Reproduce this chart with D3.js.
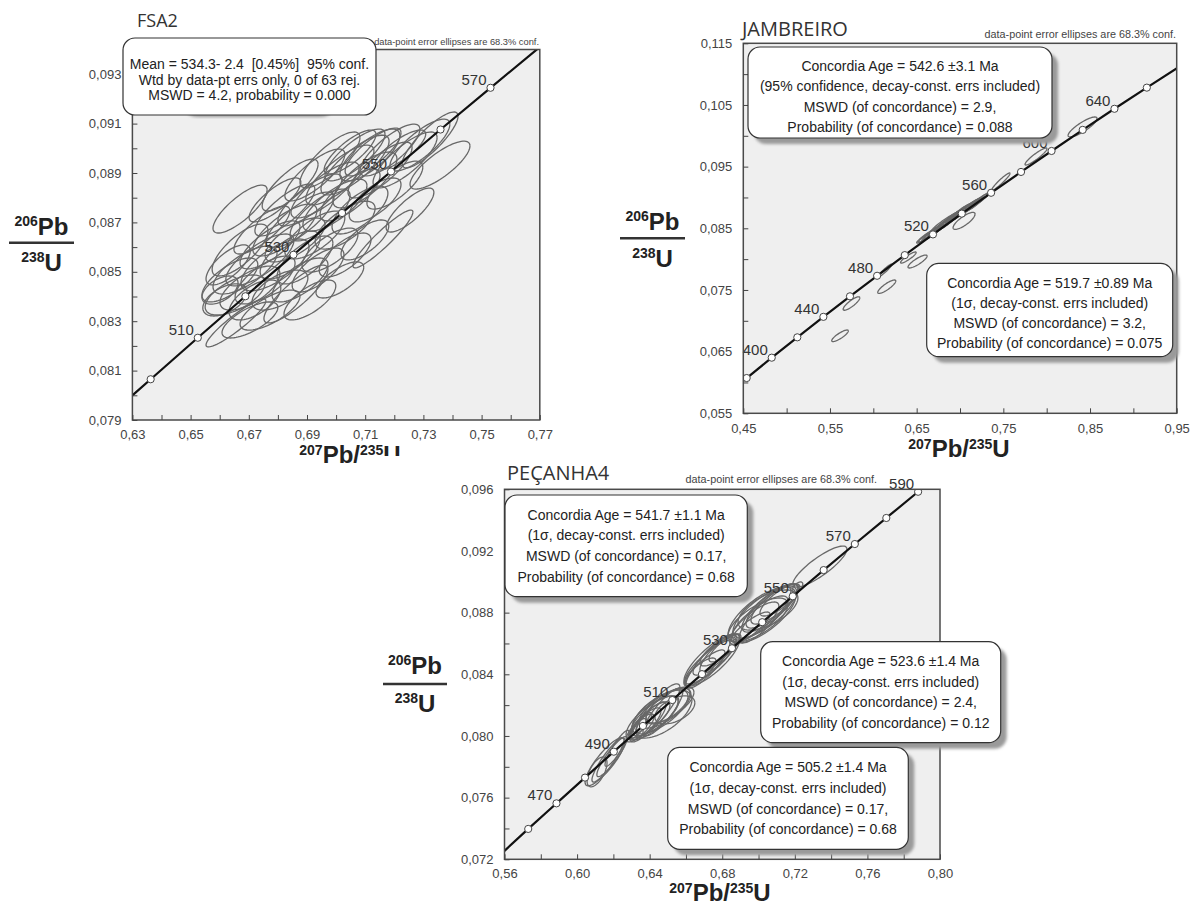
<!DOCTYPE html>
<html><head><meta charset="utf-8">
<script src="https://cdn.jsdelivr.net/npm/d3@7"></script>
<style>
body{margin:0;background:#fff;}
svg text{font-family:"Liberation Sans",Arial,sans-serif;}
</style></head><body>
<svg id="c" width="1198" height="905"></svg>
<script>
// ---------------- DATA ----------------
// FSA2
const fsaTitle = "FSA2";
const fsaXTicks = [0.63,0.65,0.67,0.69,0.71,0.73,0.75,0.77];
const fsaXMinor = [0.64,0.66,0.68,0.70,0.72,0.74,0.76];
const fsaYTicks = [0.079,0.081,0.083,0.085,0.087,0.089,0.091,0.093];
const fsaYMinor = [0.080,0.082,0.084,0.086,0.088,0.090,0.092,0.094];
const fsaCurveX = [0.63,0.63628,0.65247,0.66883,0.68535,0.70203,0.71887,0.73588,0.75306,0.77042];
const fsaCurveY = [0.08000,0.08065,0.08233,0.08401,0.08569,0.08738,0.08906,0.09076,0.09245,0.09414];
const fsaMarkX = [0.63628,0.65247,0.66883,0.68535,0.70203,0.71887,0.73588,0.75306];
const fsaMarkY = [0.08065,0.08233,0.08401,0.08569,0.08738,0.08906,0.09076,0.09245];
const fsaMarkAge = [500,510,520,530,540,550,560,570];
const fsaLabelAges = [510,530,550,570];
// [x, y, sx, sy, rho]
const fsaEllipses = [
[0.6670,0.08754,0.0093,0.00097,0.80],[0.6656,0.08293,0.0103,0.00097,0.92],[0.6862,0.08410,0.0110,0.00117,0.85],
[0.7161,0.08633,0.0103,0.00117,0.93],[0.6635,0.08467,0.0096,0.00089,0.70],[0.6653,0.08406,0.0103,0.00081,0.60],
[0.6687,0.08507,0.0110,0.00097,0.70],[0.6704,0.08434,0.0103,0.00089,0.65],[0.6618,0.08386,0.0076,0.00065,0.50],
[0.6738,0.08548,0.0117,0.00105,0.75],[0.6756,0.08467,0.0103,0.00097,0.70],[0.6773,0.08609,0.0103,0.00097,0.75],
[0.6790,0.08528,0.0117,0.00105,0.70],[0.6807,0.08426,0.0096,0.00081,0.60],[0.6824,0.08669,0.0110,0.00105,0.75],
[0.6842,0.08568,0.0103,0.00097,0.70],[0.6859,0.08629,0.0103,0.00089,0.70],[0.6876,0.08710,0.0117,0.00113,0.80],
[0.6893,0.08548,0.0096,0.00097,0.70],[0.6910,0.08791,0.0110,0.00105,0.80],[0.6927,0.08649,0.0103,0.00097,0.70],
[0.6945,0.08730,0.0103,0.00105,0.75],[0.6962,0.08831,0.0117,0.00113,0.80],[0.6979,0.08588,0.0096,0.00089,0.70],
[0.6996,0.08770,0.0110,0.00105,0.75],[0.7013,0.08892,0.0117,0.00121,0.80],[0.7031,0.08689,0.0103,0.00097,0.70],
[0.7048,0.08811,0.0103,0.00105,0.75],[0.7065,0.08932,0.0117,0.00121,0.80],[0.7082,0.08750,0.0096,0.00097,0.70],
[0.7099,0.08872,0.0110,0.00113,0.75],[0.7116,0.08973,0.0103,0.00105,0.75],[0.7134,0.08791,0.0089,0.00089,0.70],
[0.7151,0.08912,0.0110,0.00113,0.80],[0.7185,0.08993,0.0103,0.00105,0.80],[0.7202,0.08851,0.0096,0.00097,0.75],
[0.7237,0.08953,0.0110,0.00113,0.80],[0.7288,0.09013,0.0103,0.00105,0.80],[0.7323,0.09034,0.0096,0.00113,0.85],
[0.7357,0.08932,0.0103,0.00097,0.80],[0.6721,0.08386,0.0089,0.00081,0.60],[0.6670,0.08588,0.0096,0.00105,0.75],
[0.6601,0.08426,0.0062,0.00057,0.50],[0.6824,0.08750,0.0103,0.00105,0.80],[0.6876,0.08467,0.0096,0.00089,0.70],
[0.6938,0.08507,0.0089,0.00089,0.70],[0.6745,0.08669,0.0096,0.00097,0.80],[0.7031,0.08568,0.0089,0.00089,0.70],
[0.6979,0.08953,0.0103,0.00113,0.80],[0.7065,0.08973,0.0103,0.00105,0.80],[0.6773,0.08345,0.0103,0.00081,0.70],
[0.6704,0.08305,0.0096,0.00073,0.70],[0.6927,0.08892,0.0103,0.00105,0.80],[0.6842,0.08851,0.0096,0.00105,0.80],
[0.7254,0.08750,0.0082,0.00089,0.80],[0.7127,0.08985,0.0096,0.00097,0.80],[0.6629,0.08528,0.0076,0.00081,0.70],
[0.7013,0.08467,0.0082,0.00073,0.70],[0.7219,0.08993,0.0089,0.00081,0.80],[0.6910,0.08386,0.0089,0.00081,0.70],
[0.6790,0.08791,0.0089,0.00089,0.80],[0.7099,0.08629,0.0082,0.00081,0.70],[0.7048,0.08985,0.0089,0.00089,0.80]
];
const fsaBoxLines = ["Mean = 534.3- 2.4  [0.45%]  95% conf.","Wtd by data-pt errs only, 0 of 63 rej.","MSWD = 4.2, probability = 0.000"];

// JAMBREIRO
const jamTitle = "JAMBREIRO";
const jamXTicks = [0.45,0.55,0.65,0.75,0.85,0.95];
const jamXMinor = [0.50,0.60,0.70,0.80,0.90];
const jamYTicks = [0.055,0.065,0.075,0.085,0.095,0.105,0.115];
const jamYMinor = [0.060,0.070,0.080,0.090,0.100,0.110];
const jamCurveX = [0.45,0.45389,0.48281,0.51231,0.54239,0.57307,0.60437,0.63628,0.66883,0.70203,0.73588,0.77042,0.80563,0.84155,0.87818,0.91554,0.95];
const jamCurveY = [0.06027,0.06072,0.06402,0.06732,0.07064,0.07397,0.07730,0.08065,0.08401,0.08738,0.09076,0.09414,0.09754,0.10096,0.10438,0.10781,0.11092];
const jamMarkX = [0.45389,0.48281,0.51231,0.54239,0.57307,0.60437,0.63628,0.66883,0.70203,0.73588,0.77042,0.80563,0.84155,0.87818,0.91554];
const jamMarkY = [0.06072,0.06402,0.06732,0.07064,0.07397,0.07730,0.08065,0.08401,0.08738,0.09076,0.09414,0.09754,0.10096,0.10438,0.10781];
const jamMarkAge = [380,400,420,440,460,480,500,520,540,560,580,600,620,640,660];
const jamLabelAges = [400,440,480,520,560,600,640];
const jamEllipses = [
[0.5616,0.06757,0.0096,0.00094,0.85],[0.5748,0.07280,0.0096,0.00109,0.85],[0.6155,0.07553,0.0104,0.00109,0.85],
[0.6134,0.07815,0.0081,0.00105,0.95],[0.6510,0.07961,0.0110,0.00105,0.85],[0.6404,0.08026,0.0090,0.00090,0.90],
[0.6620,0.08380,0.0120,0.00120,0.95],[0.6680,0.08420,0.0100,0.00110,0.93],[0.6750,0.08500,0.0120,0.00130,0.95],
[0.6800,0.08550,0.0110,0.00120,0.93],[0.6860,0.08620,0.0120,0.00130,0.95],[0.6900,0.08660,0.0100,0.00110,0.90],
[0.6950,0.08700,0.0120,0.00130,0.95],[0.7000,0.08760,0.0110,0.00120,0.93],[0.7050,0.08800,0.0100,0.00110,0.90],
[0.7100,0.08840,0.0120,0.00130,0.95],[0.7150,0.08880,0.0100,0.00110,0.93],[0.7200,0.08930,0.0110,0.00120,0.95],
[0.6840,0.08580,0.0080,0.00090,0.90],[0.7047,0.08620,0.0127,0.00138,0.80],[0.7473,0.09259,0.0104,0.00138,0.95],
[0.7877,0.09664,0.0127,0.00138,0.92],[0.8414,0.10143,0.0167,0.00162,0.85],
[0.6650,0.08400,0.0090,0.00100,0.95],[0.6720,0.08460,0.0090,0.00100,0.95],[0.6920,0.08690,0.0090,0.00100,0.95],
[0.7250,0.08980,0.0090,0.00100,0.95],[0.6980,0.08730,0.0140,0.00140,0.95],
[0.6630,0.08390,0.0110,0.00115,0.96],[0.6700,0.08450,0.0110,0.00115,0.96],[0.6780,0.08530,0.0110,0.00115,0.96],
[0.6870,0.08610,0.0110,0.00115,0.96],[0.6960,0.08720,0.0110,0.00115,0.96],[0.7030,0.08780,0.0110,0.00115,0.96],
[0.7120,0.08870,0.0110,0.00115,0.96],[0.7180,0.08900,0.0100,0.00110,0.96],[0.6820,0.08600,0.0150,0.00150,0.96],
[0.7080,0.08820,0.0150,0.00150,0.96]
];
const jamBox1Lines = ["Concordia Age = 542.6 ±3.1 Ma","(95% confidence, decay-const. errs included)","MSWD (of concordance) = 2.9,","Probability (of concordance) = 0.088"];
const jamBox2Lines = ["Concordia Age = 519.7 ±0.89 Ma","(1σ, decay-const. errs included)","MSWD (of concordance) = 3.2,","Probability (of concordance) = 0.075"];

// PEÇANHA4
const pecTitle = "PEÇANHA4";
const pecXTicks = [0.56,0.60,0.64,0.68,0.72,0.76,0.80];
const pecXMinor = [0.58,0.62,0.66,0.70,0.74,0.78];
const pecYTicks = [0.072,0.076,0.080,0.084,0.088,0.092,0.096];
const pecYMinor = [0.074,0.078,0.082,0.086,0.090,0.094];
const pecCurveX = [0.56,0.57307,0.58864,0.60437,0.62024,0.63628,0.65247,0.66883,0.68535,0.70203,0.71887,0.73588,0.75306,0.77042,0.78794,0.79676];
const pecCurveY = [0.07255,0.07397,0.07563,0.07730,0.07898,0.08065,0.08233,0.08401,0.08569,0.08738,0.08906,0.09076,0.09245,0.09414,0.09584,0.09669];
const pecMarkX = [0.57307,0.58864,0.60437,0.62024,0.63628,0.65247,0.66883,0.68535,0.70203,0.71887,0.73588,0.75306,0.77042,0.78794];
const pecMarkY = [0.07397,0.07563,0.07730,0.07898,0.08065,0.08233,0.08401,0.08569,0.08738,0.08906,0.09076,0.09245,0.09414,0.09584];
const pecMarkAge = [460,470,480,490,500,510,520,530,540,550,560,570,580,590];
const pecLabelAges = [470,490,510,530,550,570,590];
const pecEllipses = [
[0.6154,0.07833,0.0110,0.00156,0.85],[0.6192,0.07866,0.0083,0.00130,0.90],[0.6110,0.07767,0.0055,0.00097,0.60],
[0.6220,0.07920,0.0066,0.00117,0.90],[0.6170,0.07844,0.0088,0.00143,0.90],
[0.6335,0.08048,0.0044,0.00065,0.80],[0.6368,0.08087,0.0044,0.00065,0.80],
[0.6457,0.08156,0.0154,0.00143,0.70],[0.6429,0.08130,0.0132,0.00130,0.75],[0.6484,0.08181,0.0143,0.00130,0.70],
[0.6402,0.08104,0.0110,0.00117,0.80],[0.6512,0.08201,0.0132,0.00117,0.70],[0.6468,0.08142,0.0165,0.00156,0.60],
[0.6374,0.08078,0.0088,0.00104,0.80],[0.6539,0.08169,0.0110,0.00091,0.50],[0.6347,0.08052,0.0077,0.00091,0.80],
[0.6446,0.08169,0.0121,0.00169,0.85],[0.6413,0.08117,0.0143,0.00143,0.75],[0.6501,0.08195,0.0121,0.00117,0.70],
[0.6391,0.08091,0.0099,0.00130,0.85],[0.6473,0.08156,0.0110,0.00156,0.85],
[0.6732,0.08480,0.0138,0.00143,0.85],[0.6760,0.08525,0.0121,0.00130,0.85],[0.6705,0.08441,0.0110,0.00117,0.85],
[0.6787,0.08558,0.0110,0.00104,0.80],[0.6677,0.08415,0.0088,0.00091,0.80],[0.6743,0.08493,0.0154,0.00169,0.80],
[0.6815,0.08571,0.0088,0.00091,0.80],[0.6721,0.08467,0.0121,0.00156,0.85],[0.6776,0.08525,0.0099,0.00117,0.80],
[0.7035,0.08804,0.0176,0.00169,0.75],[0.7008,0.08765,0.0154,0.00143,0.80],[0.7063,0.08830,0.0154,0.00156,0.80],
[0.6980,0.08739,0.0132,0.00130,0.80],[0.7090,0.08856,0.0132,0.00130,0.80],[0.7019,0.08785,0.0187,0.00182,0.70],
[0.6953,0.08700,0.0110,0.00104,0.85],[0.7118,0.08882,0.0110,0.00104,0.80],[0.7052,0.08817,0.0165,0.00130,0.60],
[0.6997,0.08752,0.0165,0.00143,0.70],[0.7074,0.08843,0.0143,0.00143,0.80],[0.7035,0.08785,0.0143,0.00182,0.85],
[0.7214,0.08963,0.0030,0.00036,0.60],
[0.7338,0.09099,0.0149,0.00133,0.85]
];
const pecBox1Lines = ["Concordia Age = 541.7 ±1.1 Ma","(1σ, decay-const. errs included)","MSWD (of concordance) = 0.17,","Probability (of concordance) = 0.68"];
const pecBox2Lines = ["Concordia Age = 523.6 ±1.4 Ma","(1σ, decay-const. errs included)","MSWD (of concordance) = 2.4,","Probability (of concordance) = 0.12"];
const pecBox3Lines = ["Concordia Age = 505.2 ±1.4 Ma","(1σ, decay-const. errs included)","MSWD (of concordance) = 0.17,","Probability (of concordance) = 0.68"];

const noteText = "data-point error ellipses are 68.3% conf.";

// ---------------- DRAWING ----------------
const svg = d3.select("#c");
const defs = svg.append("defs");
defs.append("filter").attr("id","blur").append("feGaussianBlur").attr("stdDeviation",1.6);
const loc = d3.formatLocale({decimal:",",thousands:".",grouping:[3],currency:["",""]});

function zip(a,b){return a.map((v,i)=>[v,b[i]]);}

function box(g, b, lines){
  const sh = b.shadow || {x:b.x+6,y:b.y+6,w:b.w,h:b.h};
  g.append("rect").attr("x",sh.x).attr("y",sh.y).attr("width",sh.w).attr("height",sh.h)
    .attr("rx",12).attr("fill","#9a9a9a").attr("filter","url(#blur)");
  g.append("rect").attr("x",b.x).attr("y",b.y).attr("width",b.w).attr("height",b.h)
    .attr("rx",12).attr("fill","#fff").attr("stroke","#333").attr("stroke-width",1.2);
  g.selectAll(null).data(lines).join("text")
    .attr("x",b.x+b.w/2).attr("y",(d,i)=>b.y0+i*b.dy)
    .attr("text-anchor","middle").attr("font-size",14).attr("fill","#222")
    .style("white-space","pre").text(d=>d);
}

function fracLabel(g, f){
  const t1 = g.append("text").attr("x",f.cx).attr("y",f.top).attr("text-anchor","middle").attr("font-weight","bold").attr("fill","#222");
  t1.append("tspan").attr("font-size",14).attr("dy",-9).text("206");
  t1.append("tspan").attr("font-size",24).attr("dy",9).text("Pb");
  g.append("line").attr("x1",f.x0).attr("x2",f.x1).attr("y1",f.ly).attr("y2",f.ly).attr("stroke","#333").attr("stroke-width",2.5);
  const t2 = g.append("text").attr("x",f.cx).attr("y",f.bot).attr("text-anchor","middle").attr("font-weight","bold").attr("fill","#222");
  t2.append("tspan").attr("font-size",14).attr("dy",-9).text("238");
  t2.append("tspan").attr("font-size",24).attr("dy",9).text("U");
}

function xTitle(g, cx, y){
  const t = g.append("text").attr("x",cx).attr("y",y).attr("text-anchor","middle").attr("font-weight","bold").attr("fill","#222");
  t.append("tspan").attr("font-size",14).attr("dy",-8).text("207");
  t.append("tspan").attr("font-size",24).attr("dy",8).text("Pb/");
  t.append("tspan").attr("font-size",14).attr("dy",-8).text("235");
  t.append("tspan").attr("font-size",24).attr("dy",8).text("U");
}

function panel(c){
  const g = svg.append("g");
  const x = d3.scaleLinear().domain(c.xDomain).range([c.left,c.right]);
  const y = d3.scaleLinear().domain(c.yDomain).range([c.bottom,c.top]);
  g.append("text").attr("x",c.titleX).attr("y",c.titleY).text(c.title)
    .style("font-family","'Open Sans',sans-serif").attr("font-size",c.titleSize).attr("fill","#333");
  g.append("rect").attr("x",c.left).attr("y",c.top).attr("width",c.right-c.left).attr("height",c.bottom-c.top).attr("fill","#efefef");
  defs.append("clipPath").attr("id","clip"+c.id).append("rect")
    .attr("x",c.left).attr("y",c.top).attr("width",c.right-c.left).attr("height",c.bottom-c.top);
  const plot = g.append("g").attr("clip-path",`url(#clip${c.id})`);
  const th = d3.range(0,73).map(i=>i*2*Math.PI/72);
  const line = d3.line().x(p=>x(p[0])).y(p=>y(p[1]));
  plot.selectAll("path.e").data(c.ellipses).join("path").attr("class","e")
    .attr("d",e=>line(th.map(t=>[e[0]+e[2]*Math.cos(t), e[1]+e[3]*(e[4]*Math.cos(t)+Math.sqrt(1-e[4]*e[4])*Math.sin(t))])))
    .attr("fill","none").attr("stroke","#686868").attr("stroke-width",1.3);
  plot.append("path").attr("d",d3.line().x(p=>x(p[0])).y(p=>y(p[1])).curve(d3.curveMonotoneX)(zip(c.curveX,c.curveY)))
    .attr("fill","none").attr("stroke","#111").attr("stroke-width",2.2);
  const marks = c.markAge.map((a,i)=>({a,x:c.markX[i],y:c.markY[i]}));
  plot.selectAll("circle").data(marks).join("circle")
    .attr("cx",d=>x(d.x)).attr("cy",d=>y(d.y)).attr("r",3.6)
    .attr("fill","#fff").attr("stroke","#444").attr("stroke-width",1);
  g.selectAll("text.age").data(marks.filter(d=>c.labelAges.includes(d.a))).join("text").attr("class","age")
    .attr("x",d=>x(d.x)-4).attr("y",d=>y(d.y)-3).attr("text-anchor","end")
    .attr("font-size",15).attr("fill","#333").text(d=>d.a);
  g.append("rect").attr("x",c.left).attr("y",c.top).attr("width",c.right-c.left).attr("height",c.bottom-c.top)
    .attr("fill","none").attr("stroke","#4a4a4a").attr("stroke-width",1.5);
  const fmt = loc.format(".3f"), xf = loc.format(".2f");
  const styleAx = s=>{s.select(".domain").remove(); s.selectAll("line").attr("stroke","#444");
    s.selectAll("text").attr("font-size",13).attr("fill","#444").style("font-family","'Liberation Sans',Arial,sans-serif");};
  g.append("g").attr("transform",`translate(0,${c.bottom})`)
    .call(d3.axisBottom(x).tickValues(c.xTicks).tickFormat(xf).tickSizeInner(-5).tickSizeOuter(0).tickPadding(c.xPad||10)).call(styleAx);
  g.append("g").attr("transform",`translate(0,${c.bottom})`)
    .call(d3.axisBottom(x).tickValues(c.xMinor).tickFormat("").tickSizeInner(-5).tickSizeOuter(0)).call(styleAx);
  g.append("g").attr("transform",`translate(${c.left},0)`)
    .call(d3.axisLeft(y).tickValues(c.yTicks).tickFormat(fmt).tickSizeInner(-5).tickSizeOuter(0).tickPadding(11)).call(styleAx);
  g.append("g").attr("transform",`translate(${c.left},0)`)
    .call(d3.axisLeft(y).tickValues(c.yMinor).tickFormat("").tickSizeInner(-5).tickSizeOuter(0)).call(styleAx);
  g.append("text").attr("x",c.noteX).attr("y",c.noteY).attr("text-anchor","end")
    .attr("font-size",c.noteSize).attr("fill","#444").text(noteText);
  c.boxes.forEach(b=>box(g,b,b.lines));
  fracLabel(g, c.fr);
  xTitle(g, c.xt.cx, c.xt.y);
}

panel({id:1,title:fsaTitle,titleX:137,titleY:27,titleSize:18,
  xDomain:[0.63,0.77],yDomain:[0.079,0.094],left:132.4,right:539.8,top:49.5,bottom:420,
  xTicks:fsaXTicks,xMinor:fsaXMinor,yTicks:fsaYTicks,yMinor:fsaYMinor,
  ellipses:fsaEllipses,curveX:fsaCurveX,curveY:fsaCurveY,markX:fsaMarkX,markY:fsaMarkY,markAge:fsaMarkAge,labelAges:fsaLabelAges,
  noteX:539,noteY:45,noteSize:9.3,
  boxes:[{x:123,y:38,w:253,h:77,y0:69,dy:15.5,lines:fsaBoxLines,shadow:{x:186,y:104,w:146,h:13}}],
  fr:{cx:41.5,top:235,bot:271,ly:242.7,x0:9,x1:74},
  xt:{cx:350,y:463}});

// white cover where the lower figure overlaps the first one's x title
svg.append("rect").attr("x",362).attr("y",456).attr("width",520).attr("height",10).attr("fill","#fff");

panel({id:2,title:jamTitle,titleX:742,titleY:36,titleSize:20,
  xDomain:[0.45,0.95],yDomain:[0.055,0.115],left:743.3,right:1176.7,top:43.3,bottom:413.3,
  xTicks:jamXTicks,xMinor:jamXMinor,yTicks:jamYTicks,yMinor:jamYMinor,
  ellipses:jamEllipses,curveX:jamCurveX,curveY:jamCurveY,markX:jamMarkX,markY:jamMarkY,markAge:jamMarkAge,labelAges:jamLabelAges,
  noteX:1176,noteY:38,noteSize:10.8,
  boxes:[{x:748,y:47,w:304,h:91,y0:71,dy:20.3,lines:jamBox1Lines},
         {x:926.7,y:263.3,w:246,h:93.4,y0:287.5,dy:20.3,lines:jamBox2Lines}],
  fr:{cx:652.5,top:230,bot:266.7,ly:238.3,x0:620,x1:685},
  xt:{cx:959,y:457}});

panel({id:3,title:pecTitle,titleX:507,titleY:480,titleSize:20,
  xDomain:[0.56,0.80],yDomain:[0.072,0.096],left:504.5,right:940,top:489.3,bottom:859.3,
  xTicks:pecXTicks,xMinor:pecXMinor,yTicks:pecYTicks,yMinor:pecYMinor,xPad:9,
  ellipses:pecEllipses,curveX:pecCurveX,curveY:pecCurveY,markX:pecMarkX,markY:pecMarkY,markAge:pecMarkAge,labelAges:pecLabelAges,
  noteX:877,noteY:483,noteSize:10.8,
  boxes:[{x:505,y:495,w:242.3,h:101.7,y0:519.5,dy:20.8,lines:pecBox1Lines},
         {x:760.7,y:641.7,w:240,h:101,y0:666,dy:20.7,lines:pecBox2Lines},
         {x:667.7,y:747.3,w:240.6,h:102,y0:772,dy:20.8,lines:pecBox3Lines}],
  fr:{cx:415,top:674,bot:711.7,ly:684,x0:383,x1:447},
  xt:{cx:720,y:901}});
</script>
</body></html>
